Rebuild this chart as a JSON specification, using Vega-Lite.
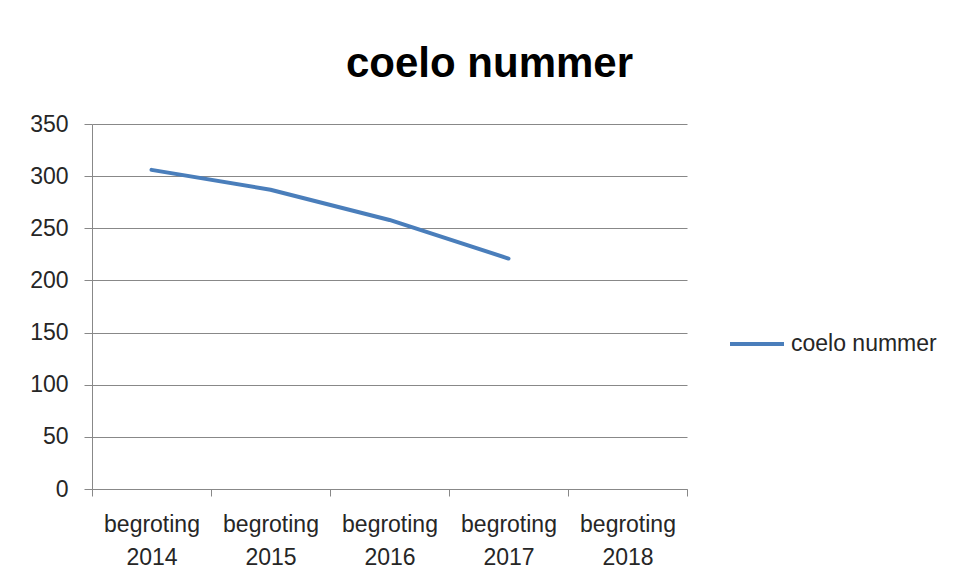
{
  "$schema": "https://vega.github.io/schema/vega-lite/v6.json",
  "autosize": "none",
  "width": 595,
  "height": 365,
  "padding": {"left": 92, "top": 124, "right": 273, "bottom": 92},
  "background": "white",
  "config": {"view": {"stroke": null}, "font": "Liberation Sans"},
  "title": {
    "text": "coelo nummer",
    "font": "Liberation Sans",
    "fontSize": 42,
    "fontWeight": "bold",
    "color": "#000000",
    "anchor": "middle",
    "dx": 100,
    "dy": 50,
    "baseline": "alphabetic",
    "offset": 44
  },
  "data": {
    "values": [
      {"jaar": "begroting 2014", "waarde": 306, "reeks": "coelo nummer"},
      {"jaar": "begroting 2015", "waarde": 287, "reeks": "coelo nummer"},
      {"jaar": "begroting 2016", "waarde": 258, "reeks": "coelo nummer"},
      {"jaar": "begroting 2017", "waarde": 221, "reeks": "coelo nummer"},
      {"jaar": "begroting 2018", "waarde": null, "reeks": "coelo nummer"}
    ]
  },
  "mark": {"type": "line", "strokeWidth": 4, "strokeCap": "round", "strokeJoin": "round"},
  "encoding": {
    "x": {
      "field": "jaar",
      "type": "nominal",
      "sort": null,
      "scale": {
        "type": "band",
        "domain": ["begroting 2014", "begroting 2015", "begroting 2016", "begroting 2017", "begroting 2018"],
        "paddingInner": 0,
        "paddingOuter": 0
      },
      "axis": {
        "title": null,
        "labelAngle": 0,
        "labelExpr": "split(datum.label, ' ')",
        "labelFontSize": 23,
        "labelColor": "#262626",
        "labelLineHeight": 33,
        "labelPadding": 17,
        "labelBaseline": "top",
        "tickBand": "extent",
        "tickSize": 7,
        "tickColor": "#888888",
        "domainColor": "#888888",
        "grid": false
      }
    },
    "y": {
      "field": "waarde",
      "type": "quantitative",
      "scale": {"domain": [0, 350], "nice": false},
      "axis": {
        "title": null,
        "values": [0, 50, 100, 150, 200, 250, 300, 350],
        "labelFontSize": 23,
        "labelColor": "#262626",
        "labelPadding": 16,
        "tickSize": 8,
        "tickColor": "#888888",
        "domainColor": "#888888",
        "gridColor": "#888888",
        "gridWidth": 1
      }
    },
    "color": {
      "field": "reeks",
      "type": "nominal",
      "scale": {"range": ["#4A7EBB"]},
      "legend": {
        "title": null,
        "orient": "none",
        "legendX": 636,
        "legendY": 191,
        "symbolType": "stroke",
        "symbolStrokeWidth": 4,
        "symbolSize": 2916,
        "labelFontSize": 23,
        "labelColor": "#262626",
        "labelOffset": 5
      }
    }
  }
}
